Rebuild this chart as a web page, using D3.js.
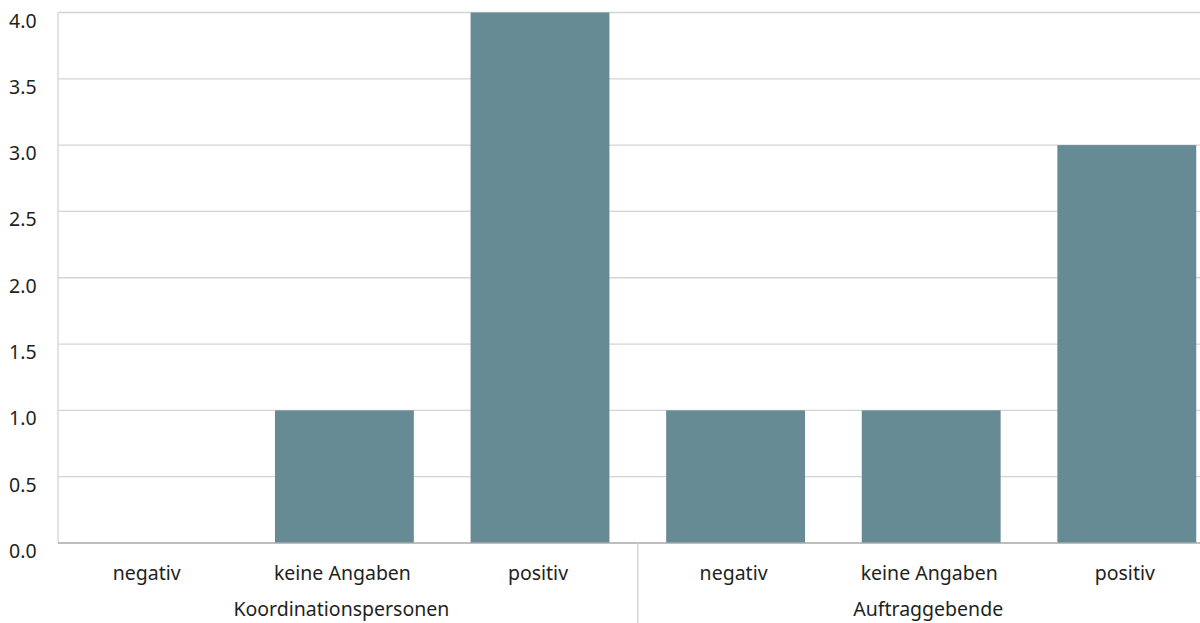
<!DOCTYPE html>
<html><head><meta charset="utf-8">
<script src="https://cdn.jsdelivr.net/npm/d3@7"></script>
<style>body{margin:0;background:#fff}svg{display:block}text{font-family:"Noto Sans",sans-serif;fill:#231f20}</style>
</head><body><svg id="c" width="1200" height="623"></svg>
<script>
const categories = ["negativ","keine Angaben","positiv","negativ","keine Angaben","positiv"];
const groups = ["Koordinationspersonen","Auftraggebende"];
const groupOf = [0,0,0,1,1,1];
const values = [0,1,4,1,1,3];
const yTicks = [0,0.5,1,1.5,2,2.5,3,3.5,4];

const svg = d3.select("#c");
const axisX = 58, y0 = 543, y1 = 12.5;
const x = d3.scaleBand().domain(d3.range(categories.length)).range([51, 1224.6]).paddingInner(0.29).paddingOuter(0.145);
const y = d3.scaleLinear().domain([0,4]).range([y0, y1]);

// gridlines
svg.append("g").selectAll("line").data(yTicks.filter(d=>d>0)).join("line")
  .attr("x1", axisX).attr("x2", 1200).attr("y1", d=>y(d)).attr("y2", d=>y(d))
  .attr("stroke", "#d4d4d4").attr("stroke-width", 1.3);
// y axis line
svg.append("line").attr("x1", axisX).attr("x2", axisX).attr("y1", y(4)).attr("y2", y0)
  .attr("stroke", "#d4d4d4").attr("stroke-width", 1.3);
// y labels
svg.append("g").selectAll("text").data(yTicks).join("text")
  .attr("x", 9).attr("y", d=>y(d)+15).attr("font-size", 19.5).text(d=>d.toFixed(1));

// bars
svg.append("g").selectAll("rect").data(values).join("rect")
  .attr("x", (d,i)=>x(i)).attr("width", x.bandwidth())
  .attr("y", d=>y(d)).attr("height", d=>y0-y(d)).attr("fill", "#668b95");

// x axis line
svg.append("line").attr("x1", axisX).attr("x2", 1200).attr("y1", y0).attr("y2", y0)
  .attr("stroke", "#a8a8a8").attr("stroke-width", 1.5);

// separator
const sep = (x(2)+x.bandwidth() + x(3))/2;
svg.append("line").attr("x1", sep).attr("x2", sep).attr("y1", y0).attr("y2", 623)
  .attr("stroke", "#cfcfcf").attr("stroke-width", 1.3);

// category labels
svg.append("g").selectAll("text").data(categories).join("text")
  .attr("x", (d,i)=>x(i)+x.bandwidth()/2 - 2).attr("y", 580).attr("text-anchor","middle")
  .attr("font-size", 19.5).text(d=>d);

// group labels
svg.append("g").selectAll("text").data(groups).join("text")
  .attr("x", (g,gi)=>{const idx=d3.range(categories.length).filter(i=>groupOf[i]===gi);
     return (x(idx[0])+x(idx[idx.length-1])+x.bandwidth())/2 - 3;})
  .attr("y", 616).attr("text-anchor","middle").attr("font-size", 19.5).text(d=>d);
</script></body></html>
